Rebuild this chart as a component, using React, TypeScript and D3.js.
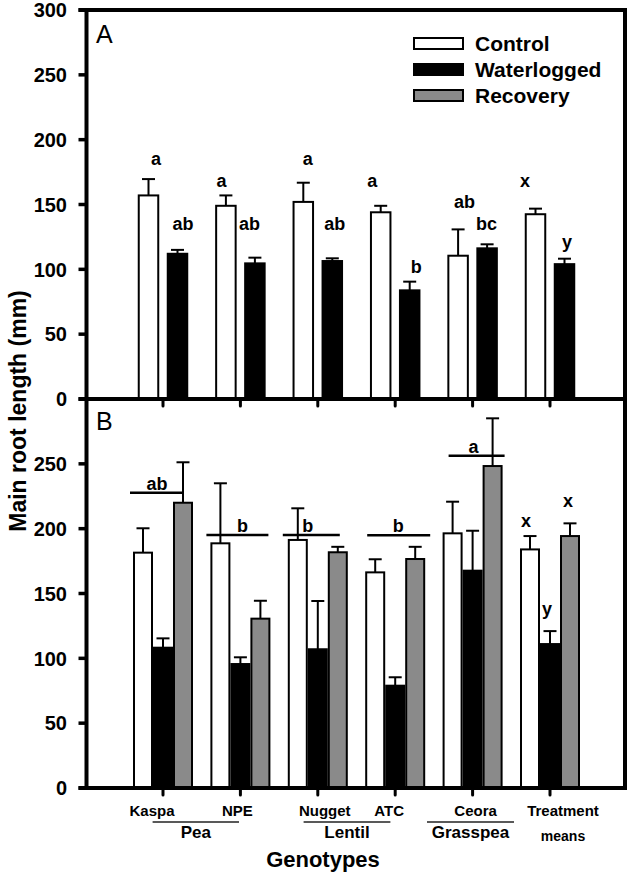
import React from 'react';
import * as d3 from 'd3';

// ---------- data ----------
const categories = ['Kaspa', 'NPE', 'Nugget', 'ATC', 'Ceora', 'Treatment'];
const tickLabels = ['Kaspa', 'NPE', 'Nugget', 'ATC', 'Ceora', 'Treatment'];
const yTicksA = [0, 50, 100, 150, 200, 250, 300];
const yTicksB = [0, 50, 100, 150, 200, 250];
const seriesNames = ['Control', 'Waterlogged', 'Recovery'];

// Panel A (no recovery)
const aControl = [157, 149, 152, 144, 110.5, 142.5];
const aControlErr = [12.6, 8, 14.8, 5, 20.3, 4.3];
const aWater = [112, 104.6, 106.4, 83.8, 116.2, 104];
const aWaterErr = [3, 4.4, 2.1, 6.7, 3.1, 4.2];
const aControlLetters = ['a', 'a', 'a', 'a', 'ab', 'x'];
const aWaterLetters = ['ab', 'ab', 'ab', 'b', 'bc', 'y'];

// Panel B
const bControl = [181.5, 188.7, 191.3, 166.3, 196.4, 184];
const bControlErr = [18.8, 46.3, 24.4, 10.1, 24.4, 10.3];
const bWater = [108.2, 95.6, 107, 78.9, 167.6, 111];
const bWaterErr = [7.2, 5.2, 37.2, 6.5, 30.8, 10];
const bRecovery = [220, 130.6, 181.8, 176.6, 248.3, 194.3];
const bRecoveryErr = [31.2, 13.8, 4.2, 9.4, 36.8, 9.8];
const bGroupLetters = ['ab', 'b', 'b', 'b', 'a'];
const bMeanLetters = ['x', 'y', 'x'];

const groups = ['Pea', 'Lentil', 'Grasspea'];

// ---------- annotation placement (px offsets / label heights) ----------
const aCtrlLetterY = [180.5, 163.5, 180.5, 163.5, 147.3, 163.5];
const aCtrlLetterDx = [-7, -19, -10, -23, -8, -25];
const aWaterLetterY = [130.3, 130.3, 130.3, 97.2, 130.3, 116.4];
const aWaterLetterDx = [20, 9, 17, 21, 14, 17];
const bBracketY = [227.7, 195.1, 195.1, 194.9, 256.3];
const bBracketX0 = [-33, -34, -35, -28, -24];
const bBracketX1 = [20, 28, 22, 35, 32];
const bBracketTextDx = [-6, 2, -10, 3, 1];
const bMeanLetterY = [201.3, 133.4, 216.9];
const bMeanLetterDx = [-24, -3, 18];
const tickLabelDx = [-11, -3, 7, -6, 3, 13];
const groupSpan = [[152.6, 239], [303.6, 390.4], [427, 514]];

const FONT = 'Liberation Sans, Arial, Helvetica, sans-serif';
const GREY = '#8a8a8a';

export default function App() {
  const W = 633, H = 874;
  const left = 86.5, right = 625;
  const aTop = 10, aBottom = 399, bBottom = 788;

  const x = d3.scalePoint<string>().domain(categories).range([163, 550]);
  const yA = d3.scaleLinear().domain([0, 300]).range([aBottom, aTop]);
  const yB = d3.scaleLinear().domain([0, 300]).range([bBottom, aBottom]);

  const fills = ['#ffffff', '#000000', GREY];

  const errBar = (cx: number, v: number, e: number, y: d3.ScaleLinear<number, number>, key: string) => (
    <g key={key}>
      <line x1={cx} x2={cx} y1={y(v)} y2={y(v + e)} stroke="#000" strokeWidth={2} />
      <line x1={cx - 6.5} x2={cx + 6.5} y1={y(v + e)} y2={y(v + e)} stroke="#000" strokeWidth={2} />
    </g>
  );

  // Panel A bars
  const aBW = 19.5, aOff = 14.5;
  const aSeries = [
    { vals: aControl, errs: aControlErr, dx: -aOff, fill: fills[0] },
    { vals: aWater, errs: aWaterErr, dx: aOff, fill: fills[1] },
  ];
  // Panel B bars
  const bBW = 18, bStep = 20;
  const bSeries = [
    { vals: bControl, errs: bControlErr, dx: -bStep, fill: fills[0] },
    { vals: bWater, errs: bWaterErr, dx: 0, fill: fills[1] },
    { vals: bRecovery, errs: bRecoveryErr, dx: bStep, fill: fills[2] },
  ];

  return (
    <svg width={W} height={H} style={{ position: 'absolute', left: 0, top: 0, background: '#fff' }} fontFamily={FONT}>
      <rect x={0} y={0} width={W} height={H} fill="#fff" />

      {/* Panel A bars */}
      {aSeries.map((s, si) =>
        categories.map((c, i) => {
          const cx = (x(c) as number) + s.dx;
          return (
            <g key={`a${si}${i}`}>
              <rect x={cx - aBW / 2} y={yA(s.vals[i])} width={aBW} height={yA(0) - yA(s.vals[i])}
                fill={s.fill} stroke="#000" strokeWidth={2} />
              {errBar(cx, s.vals[i], s.errs[i], yA, `ae${si}${i}`)}
            </g>
          );
        })
      )}
      {categories.map((c, i) => (
        <text key={`alc${i}`} x={(x(c) as number) + aCtrlLetterDx[i]} y={yA(aCtrlLetterY[i])}
          textAnchor="middle" fontSize={18} fontWeight="bold">{aControlLetters[i]}</text>
      ))}
      {categories.map((c, i) => (
        <text key={`alw${i}`} x={(x(c) as number) + aWaterLetterDx[i]} y={yA(aWaterLetterY[i])}
          textAnchor="middle" fontSize={18} fontWeight="bold">{aWaterLetters[i]}</text>
      ))}

      {/* Panel B bars */}
      {bSeries.map((s, si) =>
        categories.map((c, i) => {
          const cx = (x(c) as number) + s.dx;
          return (
            <rect key={`b${si}${i}`} x={cx - bBW / 2} y={yB(s.vals[i])} width={bBW} height={yB(0) - yB(s.vals[i])}
              fill={s.fill} stroke="#000" strokeWidth={2} />
          );
        })
      )}
      {bSeries.map((s, si) =>
        categories.map((c, i) => errBar((x(c) as number) + s.dx, s.vals[i], s.errs[i], yB, `be${si}${i}`))
      )}
      {bGroupLetters.map((l, i) => {
        const cx = x(categories[i]) as number;
        return (
          <g key={`bb${i}`}>
            <line x1={cx + bBracketX0[i]} x2={cx + bBracketX1[i]} y1={yB(bBracketY[i])} y2={yB(bBracketY[i])}
              stroke="#000" strokeWidth={2.5} />
            <text x={cx + bBracketTextDx[i]} y={yB(bBracketY[i]) - 3} textAnchor="middle" fontSize={18} fontWeight="bold">{l}</text>
          </g>
        );
      })}
      {bMeanLetters.map((l, i) => (
        <text key={`bm${i}`} x={(x(categories[5]) as number) + bMeanLetterDx[i]} y={yB(bMeanLetterY[i])}
          textAnchor="middle" fontSize={18} fontWeight="bold">{l}</text>
      ))}

      {/* Frame and axes */}
      <line x1={left - 8} x2={right} y1={aTop} y2={aTop} stroke="#000" strokeWidth={4} />
      <line x1={left - 8} x2={right + 2} y1={aBottom} y2={aBottom} stroke="#000" strokeWidth={4} />
      <line x1={left - 8} x2={right + 2} y1={bBottom} y2={bBottom} stroke="#000" strokeWidth={4} />
      <line x1={left} x2={left} y1={aTop - 2} y2={bBottom + 2} stroke="#000" strokeWidth={4} />
      <line x1={right} x2={right} y1={aTop - 2} y2={bBottom + 2} stroke="#000" strokeWidth={4} />

      {yTicksA.map(t => (
        <g key={`ya${t}`}>
          <line x1={left - 8} x2={left} y1={yA(t)} y2={yA(t)} stroke="#000" strokeWidth={3.5} />
          <text x={67} y={yA(t)} dy="0.36em" textAnchor="end" fontSize={20} fontWeight="bold">{t}</text>
        </g>
      ))}
      {yTicksB.map(t => (
        <g key={`yb${t}`}>
          <line x1={left - 8} x2={left} y1={yB(t)} y2={yB(t)} stroke="#000" strokeWidth={3.5} />
          <text x={67} y={yB(t)} dy="0.36em" textAnchor="end" fontSize={20} fontWeight="bold">{t}</text>
        </g>
      ))}
      {categories.map(c => (
        <g key={`xt${c}`}>
          <line x1={x(c)} x2={x(c)} y1={aBottom} y2={aBottom + 7} stroke="#000" strokeWidth={3} strokeLinecap="round" />
          <line x1={x(c)} x2={x(c)} y1={bBottom} y2={bBottom + 7} stroke="#000" strokeWidth={3} strokeLinecap="round" />
        </g>
      ))}

      <text x={96} y={43} fontSize={25}>A</text>
      <text x={96} y={430} fontSize={25}>B</text>

      {/* Legend */}
      {seriesNames.map((n, i) => (
        <g key={`lg${n}`}>
          <rect x={414} y={38 + i * 26} width={49} height={11} fill={fills[i]} stroke="#000" strokeWidth={2} />
          <text x={475} y={51 + i * 26} fontSize={21} fontWeight="bold">{n}</text>
        </g>
      ))}

      {/* X labels */}
      {tickLabels.map((t, i) => (
        <text key={`xl${t}`} x={(x(categories[i]) as number) + tickLabelDx[i]} y={816}
          textAnchor="middle" fontSize={15} fontWeight="bold">{t}</text>
      ))}
      <text x={563} y={841} textAnchor="middle" fontSize={14} fontWeight="bold">means</text>
      {groups.map((g, i) => (
        <g key={`gr${g}`}>
          <line x1={groupSpan[i][0]} x2={groupSpan[i][1]} y1={822} y2={822} stroke="#222" strokeWidth={1.5} />
          <text x={(groupSpan[i][0] + groupSpan[i][1]) / 2} y={838} textAnchor="middle" fontSize={17} fontWeight="bold">{g}</text>
        </g>
      ))}
      <text x={323} y={867} textAnchor="middle" fontSize={22} fontWeight="bold">Genotypes</text>
      <text transform="translate(26,411) rotate(-90)" textAnchor="middle" fontSize={23} fontWeight="bold">Main root length (mm)</text>
    </svg>
  );
}
